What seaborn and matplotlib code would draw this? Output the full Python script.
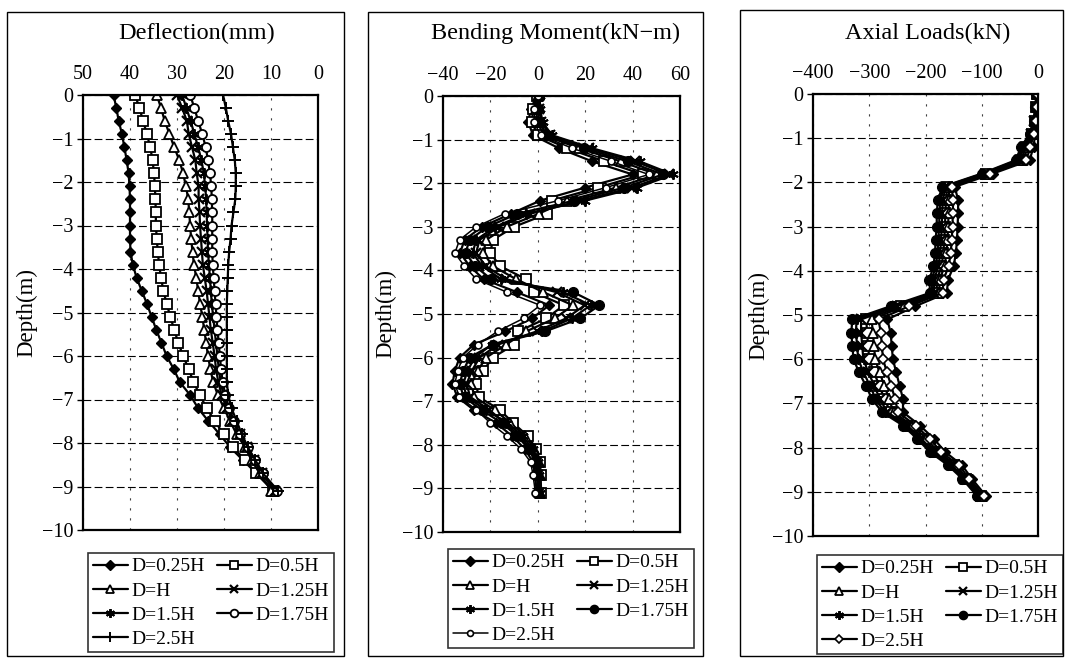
import matplotlib
matplotlib.use("Agg")
import matplotlib.pyplot as plt
import seaborn as sns
from matplotlib.patches import Rectangle

# ---------------- data ----------------
depth = [0.0, -0.3, -0.6, -0.9, -1.2, -1.5, -1.8, -2.1, -2.4, -2.7, -3.0, -3.3, -3.6, -3.9,
         -4.2, -4.5, -4.8, -5.1, -5.4, -5.7, -6.0, -6.3, -6.6, -6.9, -7.2, -7.5, -7.8, -8.1,
         -8.4, -8.7, -9.1]

series_labels = ["D=0.25H", "D=0.5H", "D=H", "D=1.25H", "D=1.5H", "D=1.75H", "D=2.5H"]

# Deflection (mm)
defl_025 = [43.5, 42.9, 42.4, 41.7, 41.2, 40.7, 40.3, 40.1, 40.0, 40.0, 40.0, 40.0, 39.9, 39.4, 38.6,
            37.5, 36.4, 35.4, 34.4, 33.3, 32.2, 30.7, 29.4, 27.2, 25.5, 23.3, 20.9, 18.7, 15.9, 13.1, 9.5]
defl_05 = [38.9, 38.0, 37.2, 36.4, 35.7, 35.2, 34.9, 34.7, 34.6, 34.5, 34.5, 34.3, 34.1, 33.8, 33.4,
           32.9, 32.2, 31.4, 30.6, 29.7, 28.7, 27.5, 26.5, 25.1, 23.7, 21.9, 20.1, 18.0, 15.5, 13.1, 9.5]
defl_1 = [34.3, 33.4, 32.6, 31.6, 30.6, 29.5, 28.7, 28.1, 27.6, 27.4, 27.2, 27.0, 26.7, 26.4, 25.9,
          25.5, 25.1, 24.6, 24.2, 23.8, 23.4, 22.9, 22.3, 21.3, 20.0, 18.7, 17.3, 15.5, 14.1, 12.4, 9.9]
defl_125 = [30.0, 28.9, 27.9, 27.5, 26.8, 26.1, 25.8, 25.4, 25.4, 25.2, 25.1, 24.9, 24.7, 24.5, 24.1,
            23.7, 23.4, 23.1, 22.8, 22.4, 22.0, 21.7, 21.2, 20.5, 19.4, 18.2, 16.7, 15.2, 13.6, 12.0, 9.2]
defl_15 = [28.9, 28.0, 27.1, 26.3, 25.5, 24.8, 24.3, 24.0, 23.8, 23.7, 23.6, 23.5, 23.4, 23.2, 23.0,
           22.8, 22.6, 22.3, 22.0, 21.7, 21.4, 21.1, 20.7, 20.1, 19.2, 18.0, 16.7, 15.1, 13.5, 11.8, 9.0]
defl_175 = [27.2, 26.3, 25.5, 24.6, 23.9, 23.4, 23.0, 22.7, 22.6, 22.5, 22.5, 22.5, 22.5, 22.4, 22.2,
            22.0, 21.8, 21.6, 21.4, 21.1, 20.9, 20.6, 20.3, 19.7, 18.9, 17.8, 16.6, 15.0, 13.4, 11.7, 8.8]
defl_25 = [20.2, 19.6, 19.1, 18.5, 18.1, 17.7, 17.5, 17.5, 17.6, 18.0, 18.4, 18.6, 18.9, 19.1, 19.2,
           19.3, 19.4, 19.4, 19.4, 19.4, 19.4, 19.4, 19.4, 19.1, 18.4, 17.3, 16.2, 14.9, 13.3, 11.7, 8.5]

# Bending moment (kN-m)
mom_025 = [-0.5, -3, -4, -2, 9, 23, 40, 20, 1, -11.3, -23.6, -30.9, -32.8, -28.8, -22.9, -8.8, 4.8,
           -2.4, -13.7, -27, -33, -35, -36, -34, -27, -17.6, -10.8, -5.4, -2, -1.2, -0.4]
mom_05 = [-0.2, -2, -2.5, 0, 12.5, 28, 44.3, 25.5, 5.8, 4, -10, -19, -20, -16, -5, -1.8, 11, 3.6,
          -8.2, -10, -19, -23, -26, -25, -16, -10.4, -4.2, -0.6, 1, 1.2, 1.4]
mom_1 = [0.2, -0.6, -0.4, 2.8, 17.4, 35, 50.2, 33.2, 12.4, 0.4, -13.2, -21.8, -23, -19, -9.2, 2.4,
         14.8, 7.2, -4.9, -13.4, -21.8, -25.4, -28, -26.8, -18.2, -11.6, -5.3, -1.4, 0.5, 0.8, 1.1]
mom_125 = [0.5, 0.6, 1.4, 5.2, 21.6, 41, 55.3, 39.8, 18.1, -3.2, -16.4, -24.6, -26, -22, -13.4, 8,
           19.8, 12, -0.5, -16.8, -24.6, -27.8, -30, -28.6, -20.4, -14, -7.5, -3, -0.5, 0, 0.5]
mom_15 = [0.8, 1, 2, 6, 23, 43, 57, 42, 20, -5, -18, -26, -27.5, -23.5, -15.5, 10.8, 22.3, 14.4,
          1.7, -19.4, -26.7, -29.6, -31.5, -30, -22, -12.8, -6.4, -2.2, 0, 0.4, 0.8]
mom_175 = [0.4, 0, 0.5, 4, 19.5, 38, 52.8, 36.5, 15.3, -8.6, -21.2, -28.8, -30.5, -26.5, -19.7, 15,
           26, 18, 3, -19, -28.8, -31.4, -33, -31.3, -23.7, -15.2, -8.6, -3.8, -1, -0.4, 0.2]
mom_25 = [0, -1.4, -1.6, 1.2, 14.6, 31, 46.8, 28.8, 8.6, -14, -26, -33, -35, -31, -26, -13, 1, -6,
          -17, -25.3, -31.6, -33.8, -35, -33.1, -25.9, -20, -13, -7, -3, -2, -1]

# Axial loads (kN)
ax_025 = [0, 0, -2, -5, -8, -15, -80, -148, -142, -142, -143, -144, -146, -150, -160, -162, -218,
          -268, -262, -260, -258, -252, -246, -240, -240, -210, -185, -165, -135, -118, -92]
ax_05 = [-1.8, -3, -5.6, -11, -21.2, -30, -92, -161.2, -163.6, -164.8, -165.2, -166.8, -168.2,
         -171.6, -179.8, -180, -244.4, -305.2, -304, -302, -300, -291.6, -282, -273, -262.2, -228,
         -203, -181.2, -150, -128.2, -101.6]
ax_1 = [-1.4, -2.3, -4.7, -9.5, -17.9, -26.3, -89, -157.9, -158.2, -159.1, -159.7, -161.1, -162.7,
        -166.2, -174.9, -175.5, -237.8, -295.9, -293.5, -291.5, -289.5, -281.7, -273, -264.8,
        -256.7, -223.5, -198.5, -177.2, -146.3, -125.7, -99.2]
ax_125 = [-2.3, -3.8, -6.5, -12.5, -24.5, -33.8, -95, -164.5, -169, -170.5, -170.8, -172.5, -173.8,
          -177, -184.8, -184.5, -251, -314.5, -314.5, -312.5, -310.5, -301.5, -291, -281.3, -267.8,
          -232.5, -207.5, -185.3, -153.8, -130.8, -104]
ax_15 = [-2.6, -4.4, -7.3, -13.8, -27.4, -37, -97.6, -167.4, -173.7, -175.4, -175.6, -177.4, -178.6,
         -181.7, -189, -188.4, -256.7, -322.6, -323.6, -321.6, -319.6, -310.1, -298.8, -288.4,
         -272.6, -236.4, -211.4, -188.8, -157, -133, -106]
ax_175 = [-3, -5, -8, -15, -30, -40, -100, -170, -178, -180, -180, -182, -183, -186, -193, -192,
          -262, -330, -332, -330, -328, -318, -306, -295, -277, -240, -215, -192, -160, -135, -108]
ax_25 = [-1, -1, -3.5, -7.5, -13.5, -21, -85, -153.5, -151, -151.5, -152, -153.5, -155, -159, -168,
         -169.5, -229, -283.5, -279.5, -277.5, -275.5, -268.5, -261, -254, -249, -217.5, -192.5,
         -172, -141, -122, -96]

deflection = [defl_025, defl_05, defl_1, defl_125, defl_15, defl_175, defl_25]
moment = [mom_025, mom_05, mom_1, mom_125, mom_15, mom_175, mom_25]
axial = [ax_025, ax_05, ax_1, ax_125, ax_15, ax_175, ax_25]

titles = ["Deflection(mm)", "Bending Moment(kN\u2212m)", "Axial Loads(kN)"]
xticks_list = [[50, 40, 30, 20, 10, 0], [-40, -20, 0, 20, 40, 60], [-400, -300, -200, -100, 0]]
xlims = [(50, 0), (-40, 60), (-400, 0)]
yticks = [0, -1, -2, -3, -4, -5, -6, -7, -8, -9, -10]

# ---------------- style ----------------
sns.set_theme(style="white")
plt.rcParams["font.family"] = ["Liberation Serif", "DejaVu Serif"]
plt.rcParams["axes.unicode_minus"] = True

W, H = 1065, 664
fig = plt.figure(figsize=(W / 100, H / 100), dpi=100)
fig.patch.set_facecolor("white")


def frac_rect(l, t, r, b):
    return [l / W, 1 - b / H, (r - l) / W, (b - t) / H]


axes_px = [(83, 95, 318, 530), (443, 96, 680, 532), (813, 94, 1038, 536)]
title_px = [(197, 33), (556, 33), (928, 33)]
legend_px = [(88, 553), (448, 549), (817, 555)]
box_px = [(7, 12, 344, 656), (368, 12, 703, 656), (740, 10, 1063, 656)]

# marker styles per panel: (marker, size, facecolor, edgewidth)
mk_defl = [("D", 5.5, "black", 1.0), ("s", 6.5, "white", 1.3), ("^", 6.5, "white", 1.3),
           ("x", 6.5, "black", 1.6), ((6, 2, 0), 7.5, "black", 1.4), ("o", 6.5, "white", 1.3),
           ("+", 8.5, "black", 1.4)]
mk_other = [("D", 5.5, "black", 1.0), ("s", 6.5, "white", 1.3), ("^", 6.5, "white", 1.3),
            ("x", 6.5, "black", 1.6), ((6, 2, 0), 7.5, "black", 1.4), ("o", 7, "black", 1.0),
            ("o", 5, "white", 1.2)]
mk_axial = mk_other[:6] + [("D", 5, "white", 1.2)]
markers = [mk_defl, mk_other, mk_axial]
datasets = [deflection, moment, axial]

legend_order = [0, 2, 4, 6, 1, 3, 5]

for p in range(3):
    ax = fig.add_axes(frac_rect(*axes_px[p]))
    ax.set_facecolor("white")
    for k, vals in enumerate(datasets[p]):
        m, ms, fc, mew = markers[p][k]
        lw = 1.1 if (p == 1 and k == 6) else 1.6
        sns.lineplot(x=vals, y=depth, sort=False, estimator=None, ax=ax, color="black",
                     linewidth=lw, marker=m, markersize=ms, markerfacecolor=fc,
                     markeredgecolor="black", markeredgewidth=mew, legend=False)
    ax.set_xlim(*xlims[p])
    ax.set_ylim(-10, 0)
    ax.set_xticks(xticks_list[p])
    ax.set_yticks(yticks)
    ax.xaxis.tick_top()
    ax.tick_params(axis="x", top=True, bottom=False, labeltop=True, labelbottom=False,
                   length=0, pad=8, labelsize=14.5, colors="black")
    ax.tick_params(axis="y", left=True, length=4, width=1, direction="out", pad=3,
                   labelsize=14.5, colors="black")
    ax.set_xlabel("")
    ax.set_ylabel("Depth(m)", fontsize=16.5, color="black")
    ax.yaxis.set_label_coords(-0.195, 0.5)
    ax.grid(axis="y", color="black", linestyle=(0, (7, 3)), linewidth=0.8)
    ax.grid(axis="x", color="0.25", linestyle=(0, (2, 7)), linewidth=0.8)
    for s in ax.spines.values():
        s.set_visible(True)
        s.set_color("black")
        s.set_linewidth(1.6)

    tx, ty = title_px[p]
    fig.text(tx / W, 1 - ty / H, titles[p], ha="center", va="center", fontsize=17.5,
             color="black")

    lines = ax.get_lines()
    handles = [lines[i] for i in legend_order]
    labels = [series_labels[i] for i in legend_order]
    lx, ly = legend_px[p]
    leg = ax.legend(handles, labels, ncol=2, loc="upper left",
                    bbox_to_anchor=(lx / W, 1 - ly / H), bbox_transform=fig.transFigure,
                    frameon=True, fancybox=False, edgecolor="black", fontsize=14,
                    handlelength=1.8, handletextpad=0.2, columnspacing=0.6,
                    labelspacing=0.33, borderpad=0.25, borderaxespad=0, markerscale=0.85)
    leg.get_frame().set_linewidth(1.2)
    for t in leg.get_texts():
        t.set_color("black")

    bl, bt, br, bb = box_px[p]
    fig.add_artist(Rectangle((bl / W, 1 - bb / H), (br - bl) / W, (bb - bt) / H,
                             transform=fig.transFigure, fill=False, edgecolor="black",
                             linewidth=1.0))

fig.savefig("out.png", dpi=100, facecolor="white")
